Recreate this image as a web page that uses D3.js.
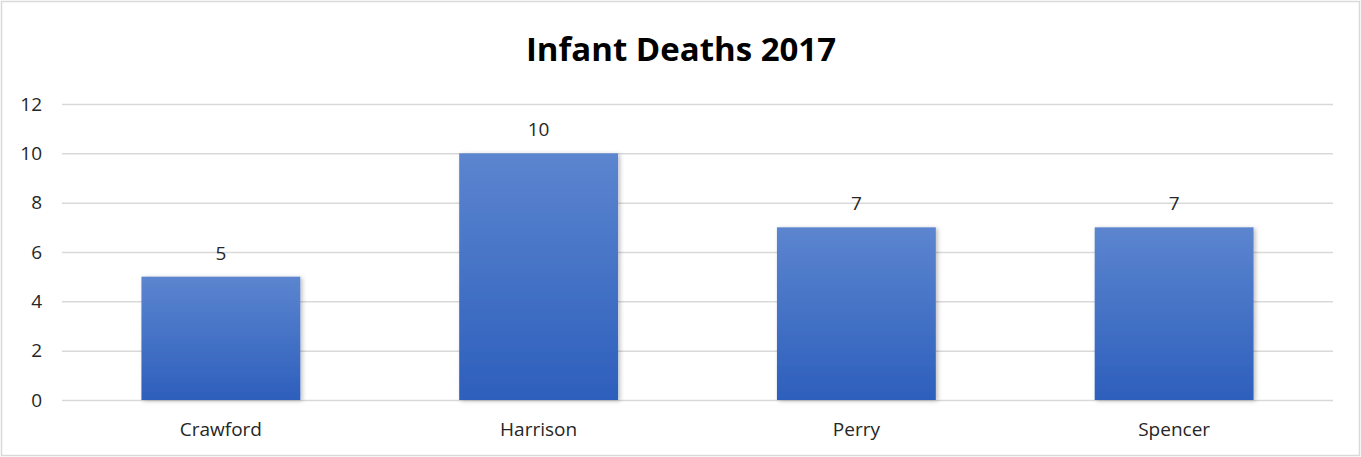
<!DOCTYPE html>
<html><head><meta charset="utf-8">
<script src="https://cdn.jsdelivr.net/npm/d3@7/dist/d3.min.js"></script>
<style>body{margin:0;background:#fff;}svg{display:block;}</style>
</head><body>
<svg id="c" width="1361" height="457"></svg>
<script>
const title = "Infant Deaths 2017";
const categories = ["Crawford", "Harrison", "Perry", "Spencer"];
const values = [5, 10, 7, 7];
const yTicks = [0, 2, 4, 6, 8, 10, 12];

const svg = d3.select("#c");
const W = 1361, H = 457;
const m = {left: 62, right: 28, top: 104, bottom: 57};
const font = "'Open Sans', 'Noto Sans', sans-serif";

svg.append("rect").attr("x", 1.5).attr("y", 1.5).attr("width", W - 3).attr("height", H - 3)
  .attr("fill", "#fff").attr("stroke", "#d9d9d9").attr("stroke-width", 1.5);

const defs = svg.append("defs");
const g1 = defs.append("linearGradient").attr("id", "bg").attr("x1", 0).attr("y1", 0).attr("x2", 0).attr("y2", 1);
g1.append("stop").attr("offset", "0%").attr("stop-color", "#5c85cf");
g1.append("stop").attr("offset", "100%").attr("stop-color", "#2d5fbc");
const f = defs.append("filter").attr("id", "sh").attr("x", "-10%").attr("y", "-10%").attr("width", "130%").attr("height", "130%");
f.append("feDropShadow").attr("dx", 2).attr("dy", 1).attr("stdDeviation", 2).attr("flood-color", "#000").attr("flood-opacity", 0.25);

const x = d3.scaleBand().domain(categories).range([m.left, W - m.right]).paddingInner(0.5).paddingOuter(0.25);
const y = d3.scaleLinear().domain([0, 12]).range([H - m.bottom, m.top]);

svg.append("text").attr("x", 681).attr("y", 61).attr("text-anchor", "middle")
  .attr("font-family", font).attr("font-weight", "bold").attr("font-size", 33).attr("fill", "#000")
  .text(title);

const ya = svg.append("g").attr("transform", `translate(${m.left},0)`)
  .call(d3.axisLeft(y).tickValues(yTicks).tickSize(-(W - m.left - m.right)).tickPadding(20));
ya.select(".domain").remove();
ya.selectAll(".tick line").attr("stroke", "#d9d9d9").attr("stroke-width", 1.5);
ya.selectAll(".tick text").attr("font-family", font).attr("font-size", 19).attr("fill", "#262626");

svg.append("g").selectAll("rect").data(values).join("rect")
  .attr("x", (d, i) => x(categories[i])).attr("width", x.bandwidth())
  .attr("y", d => y(d)).attr("height", d => y(0) - y(d))
  .attr("fill", "url(#bg)").attr("filter", "url(#sh)");

svg.append("g").selectAll("text").data(values).join("text")
  .attr("x", (d, i) => x(categories[i]) + x.bandwidth() / 2).attr("y", d => y(d) - 17)
  .attr("text-anchor", "middle").attr("font-family", font).attr("font-size", 19).attr("fill", "#262626")
  .text(d => d);

const xa = svg.append("g").attr("transform", `translate(0,${y(0)})`)
  .call(d3.axisBottom(x).tickSize(0).tickPadding(23));
xa.select(".domain").remove();
xa.selectAll(".tick text").attr("font-family", font).attr("font-size", 19).attr("fill", "#262626");
</script>
</body></html>
